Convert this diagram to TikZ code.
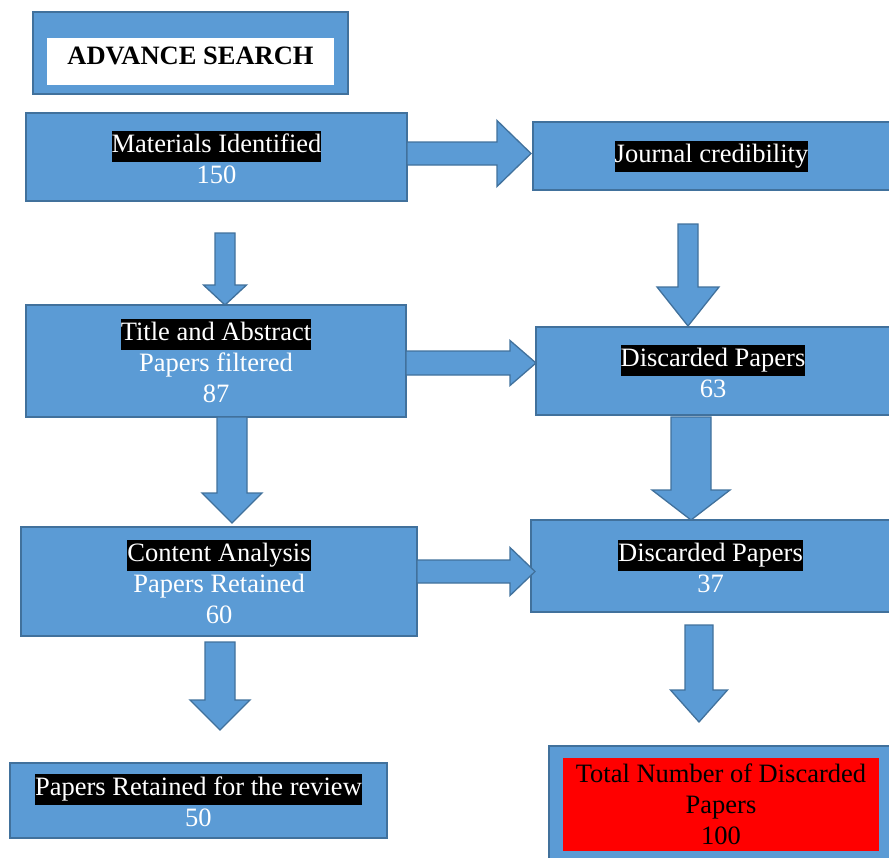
\documentclass[tikz,border=0pt]{standalone}
\usepackage{fontspec}
\setmainfont{Liberation Serif}
\definecolor{boxblue}{HTML}{5B9BD5}
\definecolor{edgeblue}{HTML}{41719C}
\newcommand{\hl}[1]{{\setlength{\fboxsep}{0pt}\colorbox{black}{\strut\textcolor{white}{#1}}}}
\newcommand{\darrow}[6]{% cx, ytop, yhead, ytip, shaft half width, head half width
  \draw[blockarrow] (#1-#5,#2) -- (#1+#5,#2) -- (#1+#5,#3) -- (#1+#6,#3) -- (#1,#4) -- (#1-#6,#3) -- (#1-#5,#3) -- cycle;}
\newcommand{\rarrow}[6]{% xstart, cy, xhead, xtip, shaft half width, head half width
  \draw[blockarrow] (#1,#2-#5) -- (#3,#2-#5) -- (#3,#2-#6) -- (#4,#2) -- (#3,#2+#6) -- (#3,#2+#5) -- (#1,#2+#5) -- cycle;}
\tikzset{
  box/.style={draw=edgeblue, line width=1.3pt, fill=boxblue, inner sep=0pt, align=center, text=white,
    font=\fontsize{26.5}{31}\selectfont},
  blockarrow/.style={draw=edgeblue, line width=1.3pt, fill=boxblue, line join=miter},
}
\begin{document}
\begin{tikzpicture}[x=1pt,y=-1pt]
\useasboundingbox (0,0) rectangle (889,857);
% Advance search
\node[box, minimum width=315pt, minimum height=82pt] (adv) at (190.5,53) {};
\node[fill=white, minimum width=287pt, minimum height=47pt, inner sep=0pt] (advw) at (190.5,61.5) {};
\node[font=\bfseries\fontsize{26.5}{30}\selectfont, inner sep=0pt] (advt) at (190.5,56) {ADVANCE SEARCH};
% Boxes
\node[box, minimum width=381pt, minimum height=88pt] (mat) at (216.5,157) {\hl{Materials Identified}\\150};
\node[box, minimum width=357pt, minimum height=68pt] (jour) at (711.5,156) {\hl{Journal credibility}};
\node[box, minimum width=380pt, minimum height=112pt] (title) at (216,361) {\hl{Title and Abstract}\\Papers filtered\\87};
\node[box, minimum width=354pt, minimum height=88pt] (d63) at (713,371) {\hl{Discarded Papers}\\63};
\node[box, minimum width=396pt, minimum height=109pt] (cont) at (219,581.5) {\hl{Content Analysis}\\Papers Retained\\60};
\node[box, minimum width=359pt, minimum height=92pt] (d37) at (710.5,566) {\hl{Discarded Papers}\\37};
\node[box, minimum width=377pt, minimum height=75pt] (ret) at (198.5,800.5) {\hl{Papers Retained for the review}\\50};
\node[box, minimum width=341pt, minimum height=116pt] (tot) at (719.5,804) {};
\node[fill=red, minimum width=316pt, minimum height=93pt, inner sep=0pt, align=center, text=black,
  font=\fontsize{26.5}{31}\selectfont] (tott) at (721,804.5) {Total Number of Discarded\\Papers\\100};
% Right arrows
\rarrow{407}{153.5}{497}{531}{11.5}{33}
\rarrow{406}{363}{510}{536}{12}{22.5}
\rarrow{417}{571.5}{510}{535}{11.5}{24}
% Down arrows
\darrow{225}{233}{285}{305}{10}{21.5}
\darrow{688}{224}{287}{326}{10}{31}
\darrow{232}{417}{493}{523}{15}{30}
\darrow{691}{417}{490}{520}{20}{39}
\darrow{220}{642}{700}{730}{15}{30}
\darrow{699}{625}{690}{722}{14}{28.5}
\end{tikzpicture}
\end{document}
